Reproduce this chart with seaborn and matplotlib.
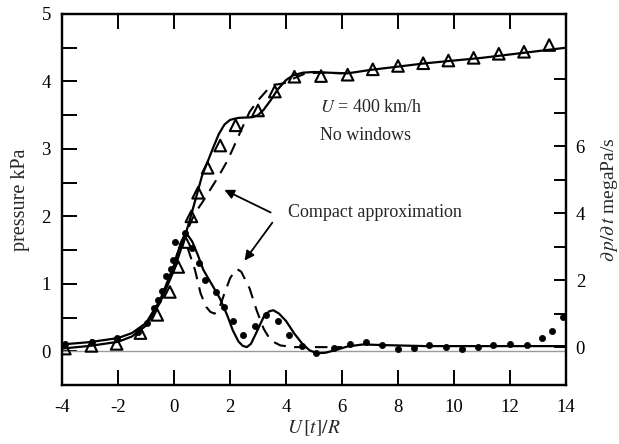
import numpy as np
import pandas as pd
import matplotlib
matplotlib.use("Agg")
import matplotlib.pyplot as plt
from matplotlib.ticker import FixedLocator
import seaborn as sns

# ---------------- data ----------------
# measured pressure (triangles), kPa
tri_x = [-3.9, -2.95, -2.05, -1.2, -0.6, -0.15, 0.15, 0.4, 0.62, 0.86, 1.2, 1.65,
         2.2, 3.0, 3.6, 4.3, 5.25, 6.2, 7.1, 8.0, 8.9, 9.8, 10.7, 11.6, 12.5, 13.4]
tri_p = [0.04, 0.08, 0.11, 0.27, 0.54, 0.88, 1.25, 1.62, 2.0, 2.35, 2.72, 3.05,
         3.35, 3.57, 3.85, 4.07, 4.08, 4.1, 4.18, 4.23, 4.27, 4.31, 4.35, 4.41, 4.44, 4.54]

# computed pressure (solid), kPa
ps_x = [-4, -3, -2, -1.5, -1, -0.5, 0, 0.3, 0.6, 1.0, 1.4, 1.6, 1.8, 2.0, 2.3, 2.8,
        3.0, 3.2, 3.45, 3.7, 4.0, 4.25, 4.6, 5.0, 5.5, 6.2, 7, 8, 9, 10, 11, 12, 13, 14]
ps_p = [0.04, 0.08, 0.14, 0.22, 0.38, 0.72, 1.2, 1.58, 2.0, 2.6, 3.02, 3.22, 3.36,
        3.43, 3.46, 3.47, 3.5, 3.58, 3.72, 3.88, 4.02, 4.09, 4.13, 4.14, 4.13, 4.12,
        4.17, 4.22, 4.27, 4.31, 4.35, 4.4, 4.45, 4.5]

# compact approximation pressure (dashed), kPa
pd_x = [0.3, 0.5, 0.75, 1.0, 1.3, 1.6, 1.9, 2.1, 2.4, 2.7, 3.0, 3.3, 3.55, 3.75,
        4.0, 4.3, 4.7, 5.2, 6.0]
pd_p = [1.55, 1.82, 2.05, 2.2, 2.4, 2.6, 2.82, 3.0, 3.28, 3.55, 3.72, 3.86, 3.95,
        3.96, 3.98, 4.05, 4.12, 4.13, 4.12]

# measured dp/dt (dots), megaPa/s
dot_x = [-3.9, -2.93, -2.04, -1.29, -0.96, -0.7, -0.57, -0.43, -0.29, -0.1, -0.03,
         0.04, 0.4, 0.64, 0.9, 1.1, 1.5, 1.8, 2.1, 2.47, 2.9, 3.3, 3.73, 4.12, 4.56,
         5.07, 5.7, 6.27, 6.84, 7.42, 8.0, 8.57, 9.1, 9.7, 10.3, 10.86, 11.4, 12.0,
         12.6, 13.15, 13.5, 13.9]
dot_d = [0.09, 0.15, 0.27, 0.45, 0.72, 1.16, 1.4, 1.67, 2.12, 2.32, 2.6,
         3.13, 3.4, 2.95, 2.5, 2.0, 1.65, 1.2, 0.78, 0.36, 0.63, 0.96, 0.78, 0.36, 0.03,
         -0.19, -0.03, 0.09, 0.15, 0.06, -0.06, -0.03, 0.06, 0.0, -0.06, 0.0, 0.06, 0.09,
         0.06, 0.27, 0.48, 0.9]

# computed dp/dt (solid), megaPa/s
ds_x = [-4, -3, -2, -1.5, -1, -0.5, 0, 0.2, 0.35, 0.5, 0.65, 0.85, 1.05, 1.4, 1.64,
        1.9, 2.1, 2.3, 2.45, 2.6, 2.75, 2.95, 3.2, 3.4, 3.55, 3.75, 4.0, 4.3, 4.6,
        4.85, 5.1, 5.4, 5.8, 6.2, 6.75, 7.5, 9, 11, 14]
ds_d = [0.08, 0.15, 0.27, 0.42, 0.72, 1.4, 2.45, 3.0, 3.28, 3.33, 3.15, 2.75, 2.3,
        1.8, 1.45, 0.95, 0.5, 0.17, 0.04, 0.0, 0.1, 0.45, 0.9, 1.07, 1.1, 1.0, 0.78,
        0.4, 0.08, -0.1, -0.18, -0.17, -0.08, 0.02, 0.08, 0.06, 0.03, 0.03, 0.03]

# compact approximation dp/dt (dashed), megaPa/s
dd_x = [0.0, 0.2, 0.35, 0.55, 0.75, 0.95, 1.15, 1.3, 1.45, 1.6, 1.8, 2.0, 2.15,
        2.25, 2.4, 2.7, 2.95, 3.2, 3.45, 3.8, 4.3, 5.0, 6.0]
dd_d = [2.45, 3.05, 3.3, 2.8, 2.3, 1.6, 1.2, 1.05, 1.0, 1.12, 1.6, 2.05, 2.25,
        2.33, 2.25, 1.75, 1.1, 0.55, 0.2, 0.05, 0.0, 0.0, 0.0]

x_ticks = [-4, -2, 0, 2, 4, 6, 8, 10, 12, 14]
p_ticks = [0, 1, 2, 3, 4, 5]
d_ticks = [0, 2, 4, 6]

# ---------------- style ----------------
sns.set_theme(style="ticks")
plt.rcParams["font.family"] = ["Liberation Serif", "DejaVu Serif"]
plt.rcParams["mathtext.fontset"] = "stix"

fig = plt.figure(figsize=(6.19, 4.44), dpi=100)
ax = fig.add_axes([0.1002, 0.1329, 0.8142, 0.8356])
ax2 = ax.twinx()

# zero line
ax.axhline(0, color="#9a9a9a", lw=1.0, zorder=1)

# pressure curves
sns.lineplot(x=ps_x, y=ps_p, ax=ax, color="black", lw=1.6, sort=False,
             estimator=None, zorder=3)
sns.lineplot(x=pd_x, y=pd_p, ax=ax, color="black", lw=1.5, sort=False,
             estimator=None, linestyle=(0, (6, 4)), zorder=3)
sns.scatterplot(x=tri_x, y=tri_p, ax=ax, marker="^", s=70, facecolor="none",
                edgecolor="black", linewidth=1.5, zorder=4)

# dp/dt curves
sns.lineplot(x=ds_x, y=ds_d, ax=ax2, color="black", lw=1.6, sort=False,
             estimator=None, zorder=3)
sns.lineplot(x=dd_x, y=dd_d, ax=ax2, color="black", lw=1.5, sort=False,
             estimator=None, linestyle=(0, (6, 4)), zorder=3)
sns.scatterplot(x=dot_x, y=dot_d, ax=ax2, marker="o", s=20, color="black",
                edgecolor="black", linewidth=0.5, zorder=4)

# axes limits and ticks
ax.set_xlim(-4, 14)
ax.set_ylim(-0.5, 5)
ax2.set_ylim(-1.13, 9.94)

ax.set_xticks(x_ticks)
ax.set_xticklabels([str(v) for v in x_ticks])
ax.set_yticks(p_ticks)
ax.set_yticklabels([str(v) for v in p_ticks])
ax.yaxis.set_minor_locator(FixedLocator([-0.5, 0.5, 1.5, 2.5, 3.5, 4.5]))
ax2.set_yticks(d_ticks)
ax2.set_yticklabels([str(v) for v in d_ticks])
ax2.yaxis.set_minor_locator(FixedLocator([1, 3, 5, 7, 8]))

ax.tick_params(axis="both", which="both", direction="in", length=10.5, width=1.4,
               labelsize=13.5, top=True, right=False, colors="black")
ax.tick_params(axis="x", pad=10)
ax.tick_params(axis="y", pad=8)
ax2.tick_params(axis="y", which="both", direction="in", length=9, width=1.4,
                labelsize=13.5, pad=7, colors="black")

for a in (ax, ax2):
    for s in a.spines.values():
        s.set_visible(True)
        s.set_linewidth(1.6)
        s.set_color("black")

ax.set_xlabel(r"$U\,[t]/R$", fontsize=14, labelpad=2)
ax.set_ylabel("pressure kPa", fontsize=14.5, labelpad=8)
ax2.set_ylabel(r"$\partial\,p/\partial\,t$ megaPa/s", fontsize=14, labelpad=10)

# annotations
ax.text(5.2, 3.61, r"$U$ = 400 km/h", fontsize=13, va="center", ha="left")
ax.text(5.2, 3.2, "No windows", fontsize=13, va="center", ha="left")
ax.text(4.07, 2.05, "Compact approximation", fontsize=13, va="center", ha="left")
ax.annotate("", xy=(1.71, 2.41), xytext=(3.54, 2.04),
            arrowprops=dict(arrowstyle="-|>", color="black", lw=1.3,
                            mutation_scale=14))
ax.annotate("", xy=(2.46, 1.31), xytext=(3.57, 1.94),
            arrowprops=dict(arrowstyle="-|>", color="black", lw=1.3,
                            mutation_scale=14))

fig.savefig("out.png", dpi=100)
